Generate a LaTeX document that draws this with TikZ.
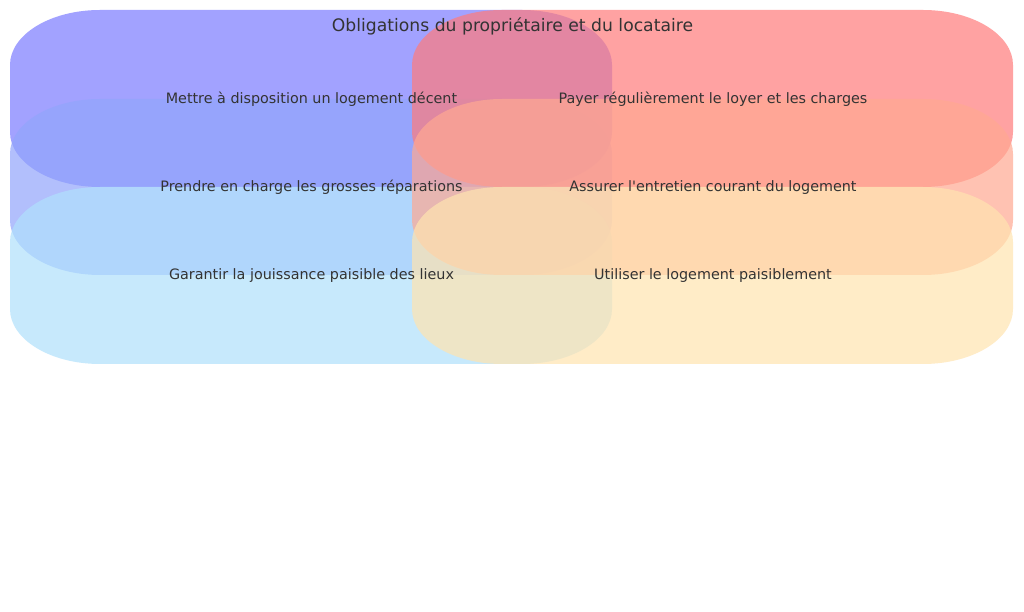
\documentclass[tikz,border=0pt]{standalone}
\usepackage{fontspec}
\setmainfont{DejaVu Sans}[Ligatures=TeXOff]
\definecolor{cA}{RGB}{123,123,255}
\definecolor{cB}{RGB}{146,165,252}
\definecolor{cC}{RGB}{176,225,252}
\definecolor{cD}{RGB}{255,123,123}
\definecolor{cE}{RGB}{255,169,146}
\definecolor{cF}{RGB}{255,228,176}
\definecolor{txt}{HTML}{333333}
\newcommand{\ellbox}[5]{%
  \fill[#5,fill opacity=0.7]
    ({#1+90},#4) -- ({#3-90},#4)
    arc[start angle=90,end angle=0,x radius=90,y radius=55]
    -- (#3,{#2+55})
    arc[start angle=0,end angle=-90,x radius=90,y radius=55]
    -- ({#1+90},#2)
    arc[start angle=270,end angle=180,x radius=90,y radius=55]
    -- (#1,{#4-55})
    arc[start angle=180,end angle=90,x radius=90,y radius=55]
    -- cycle;}
\tikzset{lbl/.style={text=txt,font=\fontsize{10.75}{12}\selectfont,inner sep=0pt,anchor=base}}
\begin{document}
\begin{tikzpicture}[x=0.75pt,y=0.75pt]
\useasboundingbox (0,0) rectangle (1024,611);
\fill[white] (0,0) rectangle (1024,611);
\ellbox{10}{424}{612}{601}{cA}
\ellbox{10}{336}{612}{512}{cB}
\ellbox{10}{247}{612}{424}{cC}
\ellbox{412}{424}{1013}{601}{cD}
\ellbox{412}{336}{1013}{512}{cE}
\ellbox{412}{247}{1013}{424}{cF}
\node[lbl,font=\fontsize{12.9}{14}\selectfont] (title) at (512.5,579.5) {Obligations du propriétaire et du locataire};
\node[lbl] (l1) at (311.5,507) {Mettre à disposition un logement décent};
\node[lbl] (l2) at (311.5,419) {Prendre en charge les grosses réparations};
\node[lbl] (l3) at (311.5,331) {Garantir la jouissance paisible des lieux};
\node[lbl] (r1) at (713,507) {Payer régulièrement le loyer et les charges};
\node[lbl] (r2) at (713,419) {Assurer l'entretien courant du logement};
\node[lbl] (r3) at (713,331) {Utiliser le logement paisiblement};
\end{tikzpicture}
\end{document}
